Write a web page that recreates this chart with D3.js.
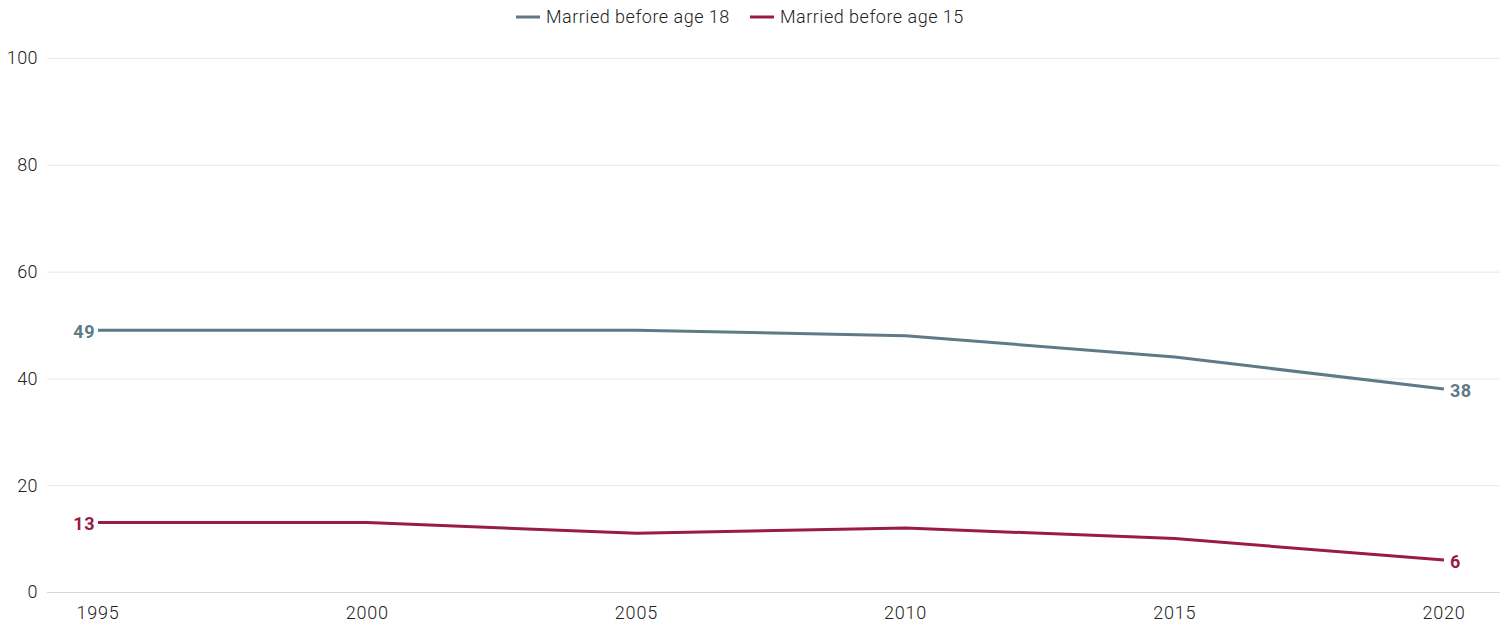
<!DOCTYPE html>
<html>
<head>
<meta charset="utf-8">
<script src="https://cdn.jsdelivr.net/npm/d3@7"></script>
<style>
body { margin: 0; background: #fff; }
text { font-family: Roboto, "Noto Sans", sans-serif; }
</style>
</head>
<body>
<svg id="chart" width="1510" height="626"></svg>
<script>
var years = [1995, 2000, 2005, 2010, 2015, 2020]
var before18 = [49, 49, 49, 48, 44, 38]
var before15 = [13, 13, 11, 12, 10, 6]
var yTicks = [0, 20, 40, 60, 80, 100]
var seriesNames = ['Married before age 18', 'Married before age 15']
var seriesColors = ['#5e7a87', '#981b4a']

var svg = d3.select('#chart')

var x = d3.scaleLinear().domain([1995, 2020]).range([98, 1444])
var y = d3.scaleLinear().domain([0, 100]).range([592, 58])

// gridlines
svg.selectAll('.grid')
  .data(yTicks)
  .enter()
  .append('line')
  .attr('x1', 47)
  .attr('x2', 1500)
  .attr('y1', function(d) { return y(d) + 0.5 })
  .attr('y2', function(d) { return y(d) + 0.5 })
  .attr('stroke', function(d) { return d === 0 ? '#d9d9d9' : '#e8e8e8' })
  .attr('stroke-width', 1)

// y labels
svg.selectAll('.ylab')
  .data(yTicks)
  .enter()
  .append('text')
  .attr('x', 38)
  .attr('y', function(d) { return y(d) })
  .attr('dy', '0.35em')
  .attr('text-anchor', 'end')
  .attr('fill', '#222')
  .style('font-size', '18px')
  .style('font-weight', 300)
  .style('letter-spacing', '0.4px')
  .text(function(d) { return d })

// x labels
svg.selectAll('.xlab')
  .data(years)
  .enter()
  .append('text')
  .attr('x', function(d) { return x(d) })
  .attr('y', 619)
  .attr('text-anchor', 'middle')
  .attr('fill', '#222')
  .style('font-size', '18px')
  .style('font-weight', 300)
  .style('letter-spacing', '0.8px')
  .text(function(d) { return d })

var line = d3.line()
  .x(function(d, i) { return x(years[i]) })
  .y(function(d) { return y(d) })

var allSeries = [before18, before15]

allSeries.forEach(function(vals, k) {
  svg.append('path')
    .datum(vals)
    .attr('d', line)
    .attr('fill', 'none')
    .attr('stroke', seriesColors[k])
    .attr('stroke-width', 3)

  // start label
  svg.append('text')
    .attr('x', x(years[0]) - 3)
    .attr('y', y(vals[0]) + 1)
    .attr('dy', '0.35em')
    .attr('text-anchor', 'end')
    .attr('fill', seriesColors[k])
    .style('font-size', '18px')
    .style('font-weight', 'bold')
    .style('letter-spacing', '0.5px')
    .text(vals[0])

  // end label
  svg.append('text')
    .attr('x', x(years[years.length - 1]) + 6)
    .attr('y', y(vals[vals.length - 1]) + 2)
    .attr('dy', '0.35em')
    .attr('text-anchor', 'start')
    .attr('fill', seriesColors[k])
    .style('font-size', '18px')
    .style('font-weight', 'bold')
    .style('letter-spacing', '0.5px')
    .text(vals[vals.length - 1])
})

// legend
var legendX = [516, 750]
seriesNames.forEach(function(name, k) {
  svg.append('line')
    .attr('x1', legendX[k])
    .attr('x2', legendX[k] + 24)
    .attr('y1', 17)
    .attr('y2', 17)
    .attr('stroke', seriesColors[k])
    .attr('stroke-width', 3)
  svg.append('text')
    .attr('x', legendX[k] + 30)
    .attr('y', 17)
    .attr('dy', '0.35em')
    .attr('fill', '#222')
    .style('font-size', '18px')
    .style('font-weight', 300)
    .style('letter-spacing', '0.5px')
    .text(name)
})
</script>
</body>
</html>
